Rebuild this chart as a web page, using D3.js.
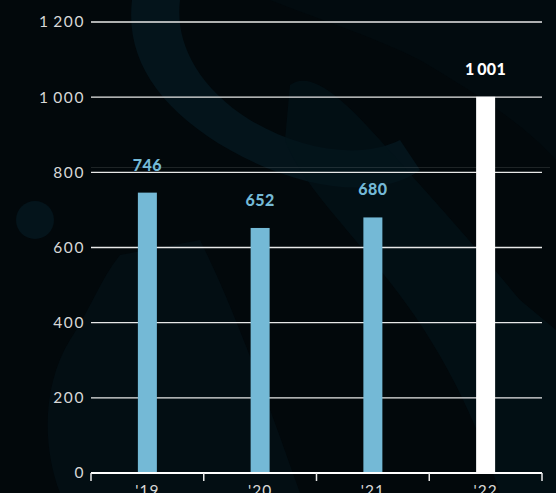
<!DOCTYPE html>
<html>
<head>
<meta charset="utf-8">
<script src="https://cdn.jsdelivr.net/npm/d3@7"></script>
<style>
  body { margin: 0; background: #02080b; }
  svg { display: block; }
</style>
</head>
<body>
<svg id="chart"></svg>
<script>
// data
var years = ["'19", "'20", "'21", "'22"];
var values = [746, 652, 680, 1001];
var barColors = ["#74b9d6", "#74b9d6", "#74b9d6", "#ffffff"];
var yTicks = [0, 200, 400, 600, 800, 1000, 1200];

var width = 556, height = 493;
var margin = {top: 22, right: 14, bottom: 20, left: 91};

var svg = d3.select('#chart')
    .attr('width', width)
    .attr('height', height);

// background
svg.append('rect').attr('width', width).attr('height', height).attr('fill', '#02080b');
var deco = svg.append('g').attr('fill', '#04141b');
deco.append('path')
    .attr('d', 'M132,0 C125,60 160,110 230,150 C300,190 380,200 420,170 L400,140 C360,160 300,150 250,120 C195,85 175,40 180,0 Z');
deco.append('circle').attr('cx', 35).attr('cy', 220).attr('r', 19);
deco.append('path')
    .attr('d', 'M60,493 C40,440 45,380 70,340 C90,310 100,280 120,255 L200,240 C230,300 260,380 300,493 Z')
    .attr('opacity', 0.5);
deco.append('path')
    .attr('d', 'M290,85 C310,70 340,95 380,140 C420,185 470,240 520,300 L556,330 L556,493 L500,493 C470,400 430,330 380,270 C340,220 300,180 285,140 Z')
    .attr('opacity', 0.6);
deco.append('path')
    .attr('d', 'M270,0 L556,0 L556,160 C520,120 470,90 420,60 C370,35 320,20 270,0 Z')
    .attr('opacity', 0.3);

var x = d3.scaleBand()
    .domain(years)
    .range([margin.left, width - margin.right]);

var y = d3.scaleLinear()
    .domain([0, 1200])
    .range([height - margin.bottom, margin.top]);

var fmt = d3.formatLocale({decimal: ".", thousands: "\u2009", grouping: [3], currency: ["", ""]}).format(",d");

// faint background line
svg.append('line')
    .attr('x1', margin.left).attr('x2', width - 6)
    .attr('y1', y(813)).attr('y2', y(813))
    .attr('stroke', '#ffffff').attr('stroke-opacity', 0.12).attr('stroke-width', 1);

// grid + y labels
var yAxis = svg.append('g').attr('class', 'y-axis');
yAxis.selectAll('line.grid')
    .data(yTicks.filter(function (d) { return d > 0; }))
    .enter().append('line')
    .attr('class', 'grid')
    .attr('x1', margin.left).attr('x2', width - margin.right)
    .attr('y1', function (d) { return y(d); })
    .attr('y2', function (d) { return y(d); })
    .attr('stroke', '#e8e8e8')
    .attr('stroke-width', 1.3);

yAxis.selectAll('text')
    .data(yTicks)
    .enter().append('text')
    .attr('x', margin.left - 6)
    .attr('y', function (d) { return y(d); })
    .attr('dy', '0.35em')
    .attr('text-anchor', 'end')
    .attr('fill', '#d8d8d8')
    .style('font-family', 'Lato, "Open Sans", sans-serif')
    .style('font-size', '15.5px')
    .style('letter-spacing', '1.6px')
    .text(function (d) { return fmt(d); });

// bars
var bw = 19;
svg.selectAll('rect.bar')
    .data(values)
    .enter().append('rect')
    .attr('class', 'bar')
    .attr('x', function (d, i) { return x(years[i]) + x.bandwidth() / 2 - bw / 2; })
    .attr('y', function (d) { return y(d); })
    .attr('width', bw)
    .attr('height', function (d) { return y(0) - y(d); })
    .attr('fill', function (d, i) { return barColors[i]; });

// value labels
svg.selectAll('text.val')
    .data(values)
    .enter().append('text')
    .attr('class', 'val')
    .attr('x', function (d, i) { return x(years[i]) + x.bandwidth() / 2; })
    .attr('y', function (d) { return y(d) - 22; })
    .attr('text-anchor', 'middle')
    .attr('fill', function (d, i) { return barColors[i]; })
    .style('font-family', 'Lato, "Open Sans", sans-serif')
    .style('font-weight', '900')
    .style('font-size', '16px')
    .style('letter-spacing', '0.4px')
    .text(function (d) { return fmt(d); });

// x axis
var xAxis = svg.append('g').attr('transform', 'translate(0,' + y(0) + ')');
xAxis.append('line')
    .attr('x1', margin.left).attr('x2', width - margin.right)
    .attr('stroke', '#ffffff').attr('stroke-width', 2);
var bounds = years.map(function (d) { return x(d); }).concat([width - margin.right]);
xAxis.selectAll('line.tick')
    .data(bounds)
    .enter().append('line')
    .attr('class', 'tick')
    .attr('x1', function (d) { return d; }).attr('x2', function (d) { return d; })
    .attr('y1', 0).attr('y2', 8)
    .attr('stroke', '#e8e8e8').attr('stroke-width', 1.5);
xAxis.selectAll('text')
    .data(years)
    .enter().append('text')
    .attr('x', function (d) { return x(d) + x.bandwidth() / 2; })
    .attr('y', 23)
    .attr('text-anchor', 'middle')
    .attr('fill', '#d8d8d8')
    .style('font-family', 'Lato, "Open Sans", sans-serif')
    .style('font-size', '15.5px')
    .style('letter-spacing', '1px')
    .text(function (d) { return d; });
</script>
</body>
</html>
